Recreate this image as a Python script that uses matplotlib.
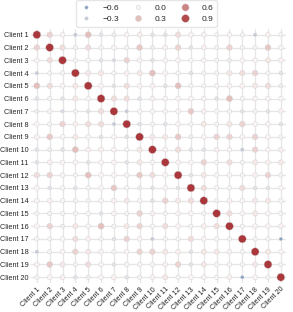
"""Client correlation matrix drawn as a sized/coloured scatter heatmap"""

import numpy as np
import seaborn as sns
from matplotlib import pyplot as plt
from matplotlib.lines import Line2D

# client names
clients = ['Client {}'.format(i) for i in range(1, 21)]

# upper triangle of the correlation matrix, row i holds columns i+1..20
upper_rows = [
    [0.2, 0.0, -0.3, 0.3, -0.15, -0.1, 0.0, 0.05, -0.15, -0.15, 0.15, 0.02, 0.02, -0.05, 0.02, -0.05, -0.3, 0.05, -0.05],
    [0.15, -0.05, 0.15, -0.05, 0.03, -0.05, 0.25, -0.1, 0.05, 0.2, -0.15, 0.05, -0.05, 0.2, -0.05, -0.05, 0.25, 0.02],
    [-0.05, 0.02, -0.15, -0.2, 0.2, 0.02, -0.15, 0.02, 0.03, -0.03, 0.0, -0.05, -0.1, 0.0, 0.02, 0.1, 0.05],
    [0.1, 0.1, -0.05, 0.05, 0.1, 0.3, 0.03, -0.05, -0.15, -0.05, -0.05, 0.1, 0.15, 0.2, -0.05, -0.15],
    [0.02, -0.15, 0.15, 0.03, 0.05, -0.15, 0.3, -0.05, -0.05, 0.03, 0.03, 0.05, 0.1, 0.15, -0.1],
    [0.15, 0.15, -0.15, 0.05, 0.02, 0.03, 0.02, 0.02, -0.15, 0.3, -0.05, 0.03, 0.02, 0.02],
    [-0.3, 0.02, 0.02, 0.02, 0.03, 0.25, 0.05, 0.02, -0.05, -0.15, -0.05, -0.15, 0.05],
    [-0.15, -0.05, -0.15, 0.03, -0.05, 0.1, -0.05, 0.1, 0.2, 0.02, 0.03, -0.15],
    [0.1, 0.1, 0.25, -0.1, 0.02, 0.2, 0.2, 0.03, 0.2, 0.03, -0.05],
    [0.03, 0.15, -0.15, -0.15, 0.05, 0.0, -0.3, 0.2, 0.02, 0.05],
    [0.03, 0.02, 0.2, -0.05, 0.15, -0.05, 0.1, 0.05, 0.1],
    [-0.15, 0.1, 0.0, 0.02, -0.05, 0.05, 0.2, -0.05],
    [0.15, 0.02, -0.05, 0.15, -0.15, -0.15, 0.02],
    [-0.05, 0.05, 0.03, 0.1, 0.1, 0.03],
    [0.15, 0.0, 0.1, 0.02, -0.05],
    [-0.05, 0.03, 0.03, 0.05],
    [-0.05, -0.05, -0.6],
    [0.1, 0.02],
    [-0.05],
]

legend_values = [-0.6, -0.3, 0.0, 0.3, 0.6, 0.9]


def build_matrix(rows):
    """Fills a symmetric matrix with unit diagonal from the upper triangle"""
    n = len(rows) + 1
    mat = np.eye(n)
    for i, row in enumerate(rows):
        mat[i, i + 1:] = row
        mat[i + 1:, i] = row
    return mat


def marker_area(vals, s_min=6.0, s_max=32.0):
    """Maps correlation values to marker areas (clipped like size_norm=(-.2, .8))"""
    frac = np.clip((np.asarray(vals) + 0.2) / 1.0, 0, 1)
    return s_min + (s_max - s_min) * frac


corr = build_matrix(upper_rows)
n = len(clients)
xx, yy = np.meshgrid(np.arange(n), np.arange(n))
vals = corr.ravel()

sns.set_style('whitegrid')
plt.rcParams['font.family'] = ['Liberation Sans', 'DejaVu Sans']

cmap = sns.color_palette('vlag', as_cmap=True)
fig = plt.figure(figsize=(2.93, 3.12), dpi=100)
ax = fig.add_axes([0.106, 0.093, 0.87, 0.814])
ax.scatter(xx.ravel(), yy.ravel(), s=marker_area(vals), c=vals, cmap=cmap,
           vmin=-1, vmax=1, edgecolors='0.82', linewidths=0.3, zorder=3)

ax.set_xticks(np.arange(n))
ax.set_yticks(np.arange(n))
ax.set_xticklabels(clients, rotation=45, ha='right', rotation_mode='anchor', fontsize=5.2)
ax.set_yticklabels(clients, fontsize=5.2)
ax.tick_params(length=0, pad=2, colors='0.15')
ax.set_xlim(-0.45, 19.4)
ax.set_ylim(19.45, -0.45)
ax.grid(True, color='0.9', linewidth=0.9)
for spine in ax.spines.values():
    spine.set_visible(False)

handles = [Line2D([], [], linestyle='', marker='o',
                  markersize=np.sqrt(marker_area(v)),
                  markerfacecolor=cmap((v + 1) / 2), markeredgecolor='0.82',
                  markeredgewidth=0.3, label='{:.1f}'.format(v).replace('-', '\u2212'))
           for v in legend_values]
fig.legend(handles=handles, loc='upper center', bbox_to_anchor=(0.5, 1.012),
           ncol=3, fontsize=6, frameon=True, edgecolor='0.88', borderpad=0.4,
           columnspacing=1.4, handletextpad=1.2, labelspacing=0.45, handlelength=1.6)

fig.savefig('out.png', dpi=100)
